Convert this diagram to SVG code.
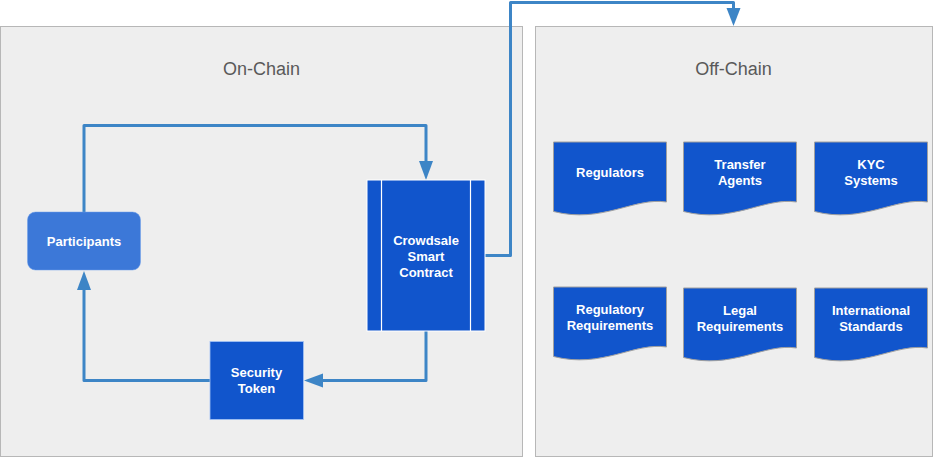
<svg xmlns="http://www.w3.org/2000/svg" width="933" height="458" viewBox="0 0 933 458">
<defs>
<style>
.container{fill:#eeeeee;stroke:#b7b7b7;stroke-width:1}
.title{font-family:"Liberation Sans",Arial,sans-serif;font-size:18px;fill:#595959;text-anchor:middle}
.lbl{font-family:"Liberation Sans",Arial,sans-serif;font-size:13px;font-weight:bold;fill:#ffffff;text-anchor:middle}
.doc{fill:#1155cc;stroke:#a0a0a0;stroke-width:1}
.conn{fill:none;stroke:#3d85c6;stroke-width:3;stroke-linejoin:round}
.head{fill:#3d85c6}
</style>
</defs>
<rect width="933" height="458" fill="#ffffff"/>
<g id="on-chain">
<rect class="container" x="0.5" y="26.5" width="522" height="430"/>
<text class="title" x="261.5" y="75">On-Chain</text>
</g>
<g id="off-chain">
<rect class="container" x="535.5" y="26.5" width="397" height="430"/>
<text class="title" x="733.5" y="75">Off-Chain</text>
</g>
<g id="connectors">
<path class="conn" d="M84,212 V125.5 H426 V162"/>
<polygon class="head" points="419,161 433,161 426,180"/>
<path class="conn" d="M426,331 V380.5 H322"/>
<polygon class="head" points="323,373.5 323,387.5 304,380.5"/>
<path class="conn" d="M210,380.5 H84 V289"/>
<polygon class="head" points="77,290 91,290 84,271"/>
<path class="conn" d="M485,255.5 H510.5 V2.5 H733.5 V9"/>
<polygon class="head" points="726.5,8 740.5,8 733.5,26"/>
</g>
<g id="participants">
<rect x="27.5" y="212" width="113" height="58" rx="8" ry="8" fill="#3c78d8" stroke="#6d9eeb" stroke-width="0.5"/>
<text class="lbl" x="84" y="246">Participants</text>
</g>
<g id="crowdsale">
<rect x="367" y="180" width="118" height="151" fill="#1155cc" stroke="#ffffff" stroke-width="1"/>
<line x1="381.5" y1="180" x2="381.5" y2="331" stroke="#ffffff" stroke-width="1.2"/>
<line x1="470.5" y1="180" x2="470.5" y2="331" stroke="#ffffff" stroke-width="1.2"/>
<text class="lbl" x="426" y="245">Crowdsale</text>
<text class="lbl" x="426" y="261">Smart</text>
<text class="lbl" x="426" y="277">Contract</text>
</g>
<g id="security-token">
<rect x="210" y="341.5" width="93.5" height="78" fill="#1155cc" stroke="#a4c2f4" stroke-width="0.8"/>
<text class="lbl" x="256.5" y="377">Security</text>
<text class="lbl" x="256.5" y="393">Token</text>
</g>
<g id="regulators">
<path class="doc" d="M553.5,142 H666.5 V202 C634,197 602,224 553.5,211.5 Z"/>
<text class="lbl" x="610" y="177">Regulators</text>
</g>
<g id="transfer-agents">
<path class="doc" d="M683.5,142 H796.5 V202 C764,197 732,224 683.5,211.5 Z"/>
<text class="lbl" x="740" y="169">Transfer</text>
<text class="lbl" x="740" y="185">Agents</text>
</g>
<g id="kyc-systems">
<path class="doc" d="M814.5,142 H927.5 V202 C895,197 863,224 814.5,211.5 Z"/>
<text class="lbl" x="871" y="169">KYC</text>
<text class="lbl" x="871" y="185">Systems</text>
</g>
<g id="regulatory-requirements">
<path class="doc" d="M553.5,287 H666.5 V347 C634,342 602,369 553.5,356.5 Z"/>
<text class="lbl" x="610" y="314">Regulatory</text>
<text class="lbl" x="610" y="330">Requirements</text>
</g>
<g id="legal-requirements">
<path class="doc" d="M683.5,288 H796.5 V348 C764,343 732,370 683.5,357.5 Z"/>
<text class="lbl" x="740" y="315">Legal</text>
<text class="lbl" x="740" y="331">Requirements</text>
</g>
<g id="international-standards">
<path class="doc" d="M814.5,288 H927.5 V348 C895,343 863,370 814.5,357.5 Z"/>
<text class="lbl" x="871" y="315">International</text>
<text class="lbl" x="871" y="331">Standards</text>
</g>
</svg>
